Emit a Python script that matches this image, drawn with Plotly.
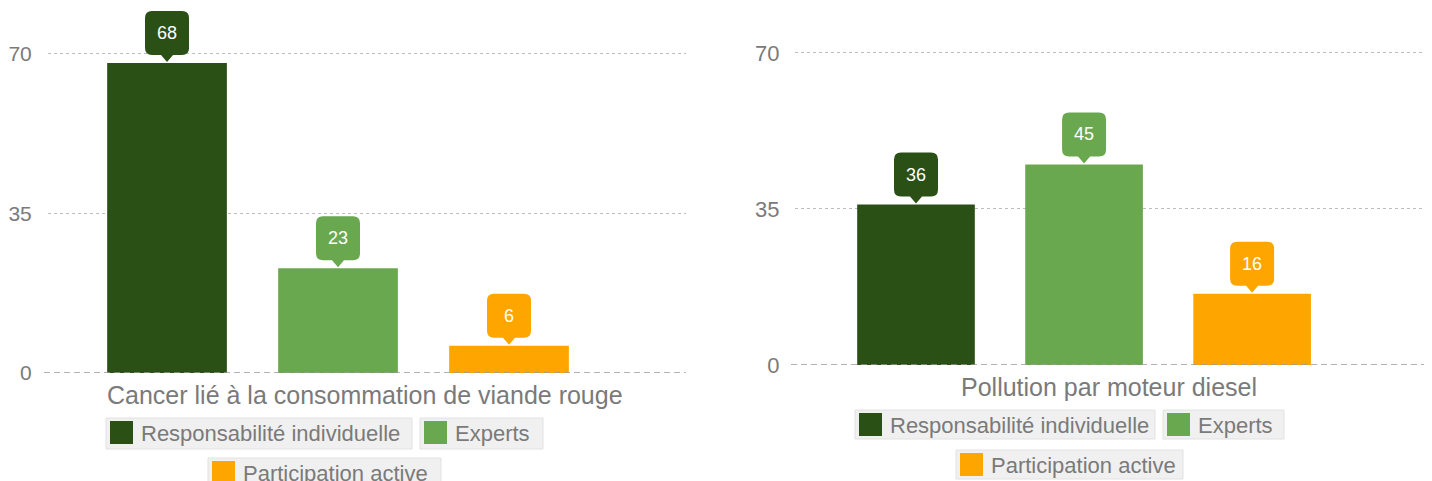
import plotly.graph_objects as go

W, H = 1432, 481
OFF = 8  # page body margin

series_names = ["Responsabilité individuelle", "Experts", "Participation active"]
series_colors = ["#2a5016", "#6aa84f", "#ffa500"]
categories = ["Cancer lié à la consommation de viande rouge", "Pollution par moteur diesel"]
values_cancer = [68, 23, 6]
values_diesel = [36, 45, 16]
tick_vals = [0, 35, 70]
tick_text = ["0", "35", "70"]

panel_values = [values_cancer, values_diesel]

FONT = "Liberation Sans, Arial, Helvetica, sans-serif"
GRAY = "#7a7a7a"
YMAX = 80


def px(x):
    return (x - OFF) / W


def py(y):
    return 1 - (y - OFF) / H


# panel geometry (page pixels)
panels = [
    dict(x0=48, x1=686, ybot=373, y70=54, xr=[-0.696, 3.035], cat_x=365, cat_y=395,
         legend=[(106, 412, 418, 449), (420, 543, 418, 449), (208, 441, 458, 489)]),
    dict(x0=795, x1=1440, ybot=365, y70=53, xr=[-0.72, 3.118], cat_x=1109, cat_y=387,
         legend=[(855, 1155, 410, 439), (1163, 1284, 410, 439), (956, 1183, 450, 479)]),
]
for pan in panels:
    ppu = (pan["ybot"] - pan["y70"]) / 70.0
    pan["ytop"] = pan["ybot"] - YMAX * ppu

fig = go.Figure()
shapes = []
annotations = []

for p_i, (pan, vals) in enumerate(zip(panels, panel_values)):
    xa = "x" if p_i == 0 else "x2"
    ya = "y" if p_i == 0 else "y2"
    for s_i, (name, color) in enumerate(zip(series_names, series_colors)):
        fig.add_trace(go.Bar(
            x=[s_i], y=[vals[s_i]], name=name, width=0.7,
            marker=dict(color=color, line=dict(width=0)),
            xaxis=xa, yaxis=ya, showlegend=False, hoverinfo="skip",
        ))
        # callout bubble
        path = ("M 0,1 L 6,8 L 15,8 Q 22,8 22,15 L 22,45 Q 22,52 15,52 "
                "L -15,52 Q -22,52 -22,45 L -22,15 Q -22,8 -15,8 L -6,8 Z")
        shapes.append(dict(
            type="path", xref=xa, yref=ya, xsizemode="pixel", ysizemode="pixel",
            xanchor=s_i, yanchor=vals[s_i], path=path,
            fillcolor=color, line=dict(width=0), layer="above",
        ))
        annotations.append(dict(
            x=s_i, y=vals[s_i], xref=xa, yref=ya, yshift=30,
            text=str(vals[s_i]), showarrow=False,
            font=dict(family=FONT, size=18, color="white"),
            xanchor="center", yanchor="middle",
        ))

    # zero line
    shapes.append(dict(
        type="line", xref="paper", yref=ya, x0=px(pan["x0"] - 4), x1=px(pan["x1"]),
        y0=0, y1=0, line=dict(color="#999999", width=1.5, dash="6px,4px"), layer="above",
    ))

    # category label
    annotations.append(dict(
        x=px(pan["cat_x"]), y=py(pan["cat_y"]),
        xref="paper", yref="paper",
        text=categories[p_i], showarrow=False, xanchor="center", yanchor="middle",
        font=dict(family=FONT, size=25, color=GRAY),
    ))

    # legend boxes
    for s_i, (bx0, bx1, by0, by1) in enumerate(pan["legend"]):
        shapes.append(dict(
            type="rect", xref="paper", yref="paper",
            x0=px(bx0), x1=px(bx1), y0=py(by1), y1=py(by0),
            fillcolor="#f0f0f0", line=dict(color="#e2e2e2", width=1), layer="above",
        ))
        shapes.append(dict(
            type="rect", xref="paper", yref="paper",
            x0=px(bx0 + 4), x1=px(bx0 + 27), y0=py(by0 + 26), y1=py(by0 + 3),
            fillcolor=series_colors[s_i], line=dict(width=0), layer="above",
        ))
        annotations.append(dict(
            x=px(bx0 + 33), y=py(by0 + 15), xref="paper", yref="paper",
            text=series_names[s_i], showarrow=False, xanchor="left", yanchor="middle",
            font=dict(family=FONT, size=22, color=GRAY),
        ))

axis_common = dict(showline=False, zeroline=False, fixedrange=True, automargin=False)


def yaxis_cfg(pan, ticklen, size):
    return dict(domain=[py(pan["ybot"]), py(pan["ytop"])], range=[0, YMAX],
                tickvals=tick_vals, ticktext=tick_text, showgrid=True,
                gridcolor="#bdbdbd", gridwidth=1, griddash="3px,3px",
                ticks="outside", ticklen=ticklen, tickcolor="rgba(0,0,0,0)",
                tickfont=dict(family=FONT, size=size, color=GRAY), **axis_common)


fig.update_layout(
    width=W, height=H,
    margin=dict(l=0, r=0, t=0, b=0, autoexpand=False),
    paper_bgcolor="white", plot_bgcolor="white",
    barmode="overlay",
    showlegend=False,
    shapes=shapes,
    annotations=annotations,
    xaxis=dict(domain=[px(panels[0]["x0"]), px(panels[0]["x1"])], range=panels[0]["xr"],
               showticklabels=False, showgrid=False, **axis_common),
    xaxis2=dict(domain=[px(panels[1]["x0"]), min(1.0, px(panels[1]["x1"]))], range=panels[1]["xr"],
                showticklabels=False, showgrid=False, **axis_common),
    yaxis=yaxis_cfg(panels[0], 11, 21),
    yaxis2=dict(anchor="x2", **yaxis_cfg(panels[1], 10, 22)),
)

fig.write_html("out.html")
